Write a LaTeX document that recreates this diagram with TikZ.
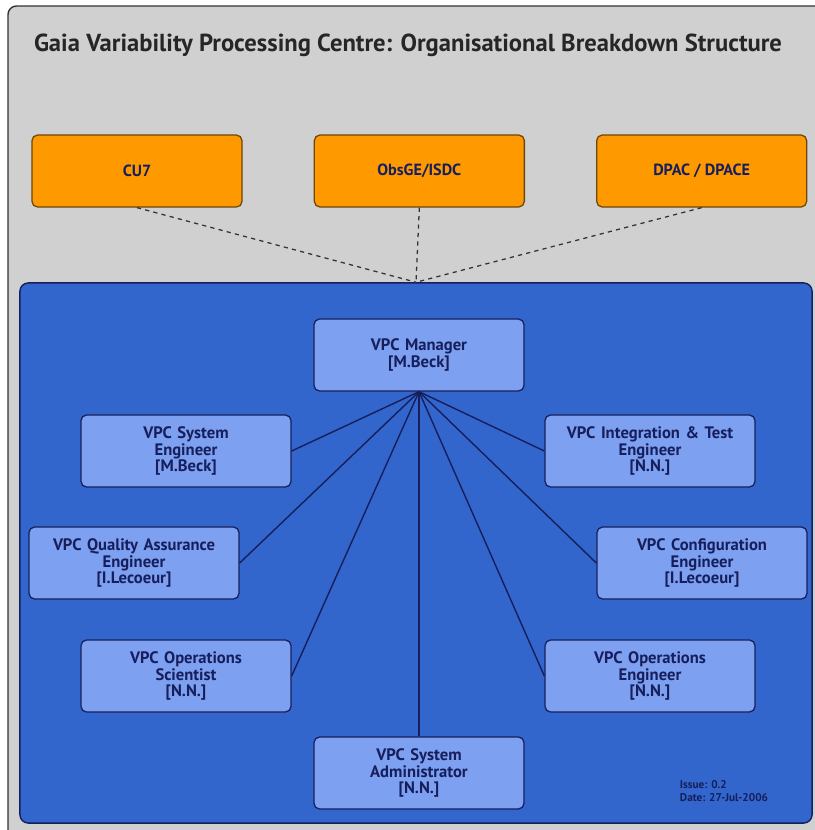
\documentclass[tikz,border=0pt]{standalone}
\usepackage{fontspec}
\setmainfont{PT Sans}
\usepackage{tikz}
\usetikzlibrary{positioning}
\usepackage{xcolor}

\definecolor{PanelGrey}{RGB}{208, 208, 208}
\definecolor{GroupBlue}{RGB}{51, 102, 204}
\definecolor{RoleBlue}{RGB}{125, 160, 240}
\definecolor{NightNavy}{RGB}{22, 30, 92}
\definecolor{Amber}{RGB}{255, 153, 0}
\definecolor{AmberEdge}{RGB}{110, 70, 10}

\begin{document}
\begin{tikzpicture}[
        x=0.025cm, y=-0.025cm,
        node distance=1.775cm and 1.775cm,
        party/.style={rectangle, rounded corners=4pt, draw=AmberEdge, fill=Amber,
                      line width=0.9pt, minimum width=5.25cm, minimum height=1.8cm,
                      align=center, text=NightNavy,
                      font=\fontsize{11.5}{12}\selectfont\bfseries},
        role/.style={rectangle, rounded corners=4pt, draw=NightNavy, fill=RoleBlue,
                     line width=0.9pt, minimum width=5.25cm, minimum height=1.8cm,
                     text width=5cm, align=center, text=NightNavy,
                     font=\fontsize{11.8}{12}\selectfont\bfseries},
        group/.style={rectangle, rounded corners=6pt, draw=NightNavy, fill=GroupBlue,
                      line width=1pt, minimum width=19.8cm, minimum height=13.5cm},
        link/.style={NightNavy, line width=1pt},
        liaison/.style={dashed, black!80, line width=0.9pt}
    ]
        \useasboundingbox (0,0) rectangle (815,830);
        \clip (0,0) rectangle (815,830);

        % grey sheet behind everything
        \draw[fill=PanelGrey, draw=black!80, line width=1pt, rounded corners=6pt]
            (8,6) rectangle (845,860);
        \node[font=\fontsize{17.5}{20}\selectfont\bfseries, text=black!85] (title) at (408,45)
            {Gaia Variability Processing Centre: Organisational Breakdown Structure};

        % external parties
        \node[party] (cu7) at (137,171) {CU7};
        \node[party, right=of cu7] (obsge) {ObsGE/ISDC};
        \node[party, right=of obsge] (dpac) {DPAC / DPACE};

        % the VPC itself
        \node[group] (vpc) at (416,553) {};

        \draw[liaison] (cu7.south) -- (vpc.north);
        \draw[liaison] (obsge.south) -- (vpc.north);
        \draw[liaison] (dpac.south) -- (vpc.north);

        \node[role] (mgr) at (419,355) {VPC Manager\\{[M.Beck]}};
        \node[role] (syseng) at (186,451) {VPC System\\Engineer\\{[M.Beck]}};
        \node[role] (integ) at (650,451) {VPC Integration \& Test\\Engineer\\{[N.N.]}};
        \node[role] (qa) at (134,563) {VPC Quality Assurance\\Engineer\\{[I.Lecoeur]}};
        \node[role] (config) at (702,563) {VPC Configuration\\Engineer\\{[I.Lecoeur]}};
        \node[role] (opsci) at (186,676) {VPC Operations\\Scientist\\{[N.N.]}};
        \node[role] (openg) at (650,676) {VPC Operations\\Engineer\\{[N.N.]}};
        \node[role] (sysadm) at (419,773) {VPC System\\Administrator\\{[N.N.]}};

        \draw[link] (mgr.south) -- (syseng.east);
        \draw[link] (mgr.south) -- (qa.east);
        \draw[link] (mgr.south) -- (opsci.east);
        \draw[link] (mgr.south) -- (sysadm.north);
        \draw[link] (mgr.south) -- (openg.west);
        \draw[link] (mgr.south) -- (config.west);
        \draw[link] (mgr.south) -- (integ.west);

        \node[anchor=west, align=left, text=NightNavy,
              font=\fontsize{8}{9.5}\selectfont\bfseries] (stamp) at (675,791)
            {Issue: 0.2\\Date: 27-Jul-2006};
    \end{tikzpicture}
\end{document}
